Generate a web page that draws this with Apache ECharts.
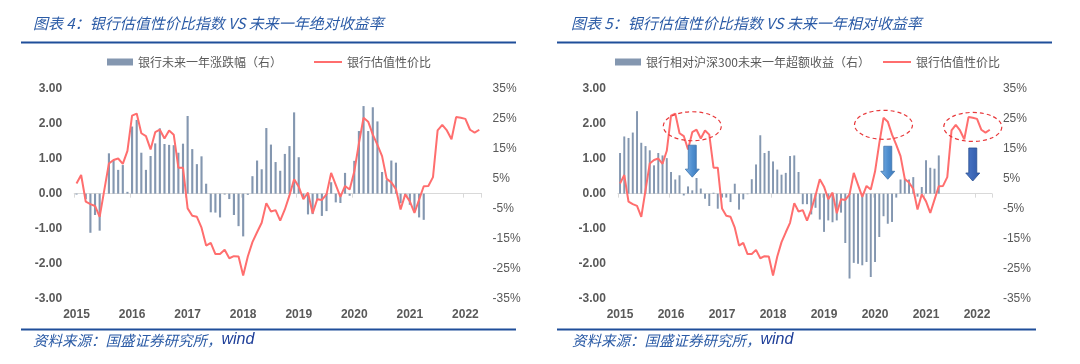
<!DOCTYPE html>
<html><head><meta charset="utf-8">
<script src="https://cdn.jsdelivr.net/npm/echarts@6/dist/echarts.min.js"></script>
<style>html,body{margin:0;padding:0;background:#fff}#c{width:1080px;height:364px}</style>
</head><body><div id="c"></div>
<script>
// ---- data ----
const months = [
 '2015-01','2015-02','2015-03','2015-04','2015-05','2015-06','2015-07','2015-08','2015-09','2015-10','2015-11','2015-12',
 '2016-01','2016-02','2016-03','2016-04','2016-05','2016-06','2016-07','2016-08','2016-09','2016-10','2016-11','2016-12',
 '2017-01','2017-02','2017-03','2017-04','2017-05','2017-06','2017-07','2017-08','2017-09','2017-10','2017-11','2017-12',
 '2018-01','2018-02','2018-03','2018-04','2018-05','2018-06','2018-07','2018-08','2018-09','2018-10','2018-11','2018-12',
 '2019-01','2019-02','2019-03','2019-04','2019-05','2019-06','2019-07','2019-08','2019-09','2019-10','2019-11','2019-12',
 '2020-01','2020-02','2020-03','2020-04','2020-05','2020-06','2020-07','2020-08','2020-09','2020-10','2020-11','2020-12',
 '2021-01','2021-02','2021-03','2021-04','2021-05','2021-06','2021-07','2021-08','2021-09','2021-10','2021-11','2021-12',
 '2022-01','2022-02','2022-03','2022-04'];
// 银行估值性价比 (left axis)
const valuationIndex = [
 0.29,0.53,-0.23,-0.30,-0.35,-0.66,0.10,0.86,0.96,1.00,0.85,1.22,
 2.22,2.28,1.72,1.64,1.26,1.75,1.82,1.57,1.80,1.68,0.74,0.74,
 -0.42,-0.63,-0.66,-0.97,-1.48,-1.40,-1.72,-1.72,-1.60,-1.84,-1.78,-1.79,
 -2.33,-1.79,-1.38,-1.10,-0.83,-0.27,-0.51,-0.47,-0.77,-0.45,-0.05,0.41,
 0.20,-0.16,0.03,-0.56,-0.16,-0.18,-0.02,0.59,0.25,-0.09,0.22,0.12,
 0.63,1.43,2.16,2.05,1.68,1.39,1.07,0.42,0.32,0.13,-0.45,-0.02,
 -0.22,-0.55,-0.17,0.21,0.22,0.47,1.80,1.96,1.80,1.55,2.18,2.16,
 2.13,1.82,1.74,1.82];
// 银行未来一年涨跌幅 (%, right axis)
const absReturn = [
 -0.3,0,-1.8,-13.0,-7.1,-12.3,0,13.4,11.2,7.9,9.5,0.6,
 22.3,24.5,13.6,7.9,12.5,16.7,21.7,16.5,16.2,16.1,13.6,16.6,
 25.8,14.8,9.8,12.4,3.3,-6.2,-6.3,-7.9,-0.3,-1.8,-7.1,-10.8,
 -14.2,-0.4,5.8,11.0,8.1,21.8,16.3,10.5,7.6,13.2,15.8,27.0,
 12.1,-1.3,-6.9,-6.8,-2.1,-7.4,-5.8,3.8,-2.9,-3.1,6.9,-0.7,
 10.9,20.8,29.1,20.8,28.7,24.0,7.2,4.5,11.0,10.3,-3.2,-1.0,
 -3.7,-5.6,-7.9,-8.7];
// 银行相对沪深300未来一年超额收益 (%, right axis)
const excessReturn = [
 13.5,19.0,18.5,20.3,27.4,16.9,15.8,14.4,9.4,13.5,12.7,11.8,
 7.2,4.7,6.1,-0.6,2.4,1.1,5.2,1.7,-1.7,-4.1,0.3,-5.0,
 -1.3,-1.3,-2.8,3.3,-5.3,-1.9,-0.2,4.8,9.7,19.4,13.5,14.2,
 10.7,8.0,6.3,6.9,12.5,12.7,7.2,-3.5,-3.5,-6.9,-4.7,-8.6,
 -12.7,-8.9,-9.5,-8.9,-6.3,-16.4,-28.2,-23.0,-23.3,-23.8,-22.7,-27.7,
 -22.7,-14.4,-7.5,-10.0,-9.4,-1.3,4.7,4.8,4.7,5.5,-1.0,2.2,
 11.1,8.6,8.3,12.7];
const leftAxisRange = [-3, 3, 1];
const rightAxisRange = [-35, 35, 10];
const titles = ['图表 4：银行估值性价比指数 VS 未来一年绝对收益率', '图表 5：银行估值性价比指数 VS 未来一年相对收益率'];
const barNames = ['银行未来一年涨跌幅（右）', '银行相对沪深300未来一年超额收益（右）'];
const lineName = '银行估值性价比';
const sourceText = '资料来源：国盛证券研究所，';
// annotations on chart 5: [category index, value on left axis]
const ellipses = [[16.5, 1.92], [62.2, 1.96], [82.6, 1.90]];
const arrows = [[16.8, 1.38, 0.47, 'light'], [63.3, 1.35, 0.41, 'light'], [82.8, 1.30, 0.36, 'dark']];

// ---- styles ----
const BAR = '#8497B0', LINE = '#FF6E6E', BLUE = '#2B5BA6', RULE = '#1F4E9A', GRAY = '#595959';
const NUM = '"Liberation Sans", Arial, sans-serif';
const CJK = '"Noto Sans CJK SC", sans-serif';
const grids = [
  {left: 74.2, top: 88.3, width: 407.4, height: 210.7},
  {left: 617.9, top: 88.3, width: 374, height: 210.7}
];
const barSeries = [absReturn, excessReturn];

const xAxis = [], yAxis = [], series = [];
grids.forEach((g, i) => {
  xAxis.push({type: 'category', gridIndex: i, data: months, position: 'bottom', boundaryGap: true,
    axisLine: {show: false, onZero: false}, axisTick: {show: false},
    axisLabel: {interval: 11, formatter: v => v.slice(0, 4), color: GRAY, fontWeight: 'bold', fontSize: 12, fontFamily: NUM, margin: 10}});
  xAxis.push({type: 'category', gridIndex: i, data: months, position: 'bottom', boundaryGap: true,
    axisLine: {show: true, onZero: true, lineStyle: {color: '#D9D9D9', width: 1}},
    axisTick: {show: true, interval: 11, length: 4, lineStyle: {color: '#D9D9D9'}},
    axisLabel: {show: false}});
  yAxis.push({type: 'value', gridIndex: i, position: 'left', min: leftAxisRange[0], max: leftAxisRange[1], interval: leftAxisRange[2],
    axisLine: {show: false}, axisTick: {show: false}, splitLine: {show: false},
    axisLabel: {formatter: v => v.toFixed(2), color: GRAY, fontWeight: 'bold', fontSize: 12, fontFamily: NUM, margin: 12}});
  yAxis.push({type: 'value', gridIndex: i, position: 'right', min: rightAxisRange[0], max: rightAxisRange[1], interval: rightAxisRange[2],
    axisLine: {show: false}, axisTick: {show: false}, splitLine: {show: false},
    axisLabel: {formatter: v => v + '%', color: GRAY, fontSize: 12, fontFamily: NUM, margin: 11}});
  series.push({type: 'bar', name: barNames[i], xAxisIndex: 2 * i, yAxisIndex: 2 * i + 1, data: barSeries[i],
    barWidth: '46%', itemStyle: {color: BAR}, z: 2, animation: false});
  series.push({type: 'line', name: lineName, xAxisIndex: 2 * i, yAxisIndex: 2 * i, data: valuationIndex,
    symbol: 'none', showSymbol: false, lineStyle: {color: LINE, width: 2}, itemStyle: {color: LINE}, z: 3, animation: false});
});

const legendText = {color: GRAY, fontSize: 12, fontFamily: CJK};
const barLegend = (name, left) => ({left, top: 56, padding: 0, data: [{name, icon: 'rect'}], itemWidth: 26, itemHeight: 7, itemStyle: {color: BAR}, textStyle: legendText, selectedMode: false});
const lineLegend = (left) => ({left, top: 56, padding: 0, data: [{name: lineName, icon: 'rect'}], itemWidth: 28, itemHeight: 2, itemStyle: {color: LINE}, textStyle: legendText, selectedMode: false});
const legend = [barLegend(barNames[0], 107), lineLegend(314), barLegend(barNames[1], 615), lineLegend(883)];

const titleStyle = {fontStyle: 'italic', fontWeight: 'normal', fontSize: 15, color: BLUE, fontFamily: CJK};
const srcRich = {rich: {
  a: {fontStyle: 'italic', fontWeight: 'normal', fontSize: 14.5, color: BLUE, fontFamily: CJK},
  b: {fontStyle: 'italic', fontWeight: 'normal', fontSize: 16, color: '#1F3F99', fontFamily: NUM}}};
const title = [
  {text: titles[0], left: 33, top: 16, padding: 0, textStyle: titleStyle},
  {text: titles[1], left: 571, top: 16, padding: 0, textStyle: titleStyle},
  {text: '{a|' + sourceText + '}{b|wind}', left: 33, top: 332, padding: 0, textStyle: srcRich},
  {text: '{a|' + sourceText + '}{b|wind}', left: 572, top: 332, padding: 0, textStyle: srcRich}
];

const chart = echarts.init(document.getElementById('c'), null, {renderer: 'canvas'});
chart.setOption({backgroundColor: '#fff', animation: false, grid: grids, xAxis, yAxis, series, legend, title});

// rules + annotations
const g = [];
const rule = (x1, x2, y) => g.push({type: 'line', shape: {x1, y1: y, x2, y2: y}, style: {stroke: RULE, lineWidth: 2.2}, silent: true});
rule(21, 516, 42.5); rule(557, 1052, 42.5);
rule(21, 516, 329.5); rule(557, 1036, 329.5);
const conv = (k, v) => chart.convertToPixel({xAxisIndex: 2, yAxisIndex: 2}, [k, v]);
ellipses.forEach(([k, v]) => {
  const p = conv(k, v);
  g.push({type: 'ellipse', shape: {cx: p[0], cy: p[1], rx: 29, ry: 14.5}, style: {fill: null, stroke: '#E8393B', lineWidth: 1.2, lineDash: [4, 3]}, z: 10, silent: true});
});
arrows.forEach(([k, v1, v2, tone]) => {
  const p1 = conv(k, v1), p2 = conv(k, v2);
  const x = p1[0], y0 = p1[1], y2 = p2[1], y1 = y2 - 8;
  const fill = tone === 'light'
    ? new echarts.graphic.LinearGradient(0, 0, 1, 0, [{offset: 0, color: '#7FB2E5'}, {offset: 0.5, color: '#4F8FD0'}, {offset: 1, color: '#3A76B8'}])
    : new echarts.graphic.LinearGradient(0, 0, 1, 0, [{offset: 0, color: '#4C78C8'}, {offset: 1, color: '#2F58A8'}]);
  g.push({type: 'polygon', shape: {points: [[x - 4, y0], [x + 4, y0], [x + 4, y1], [x + 7, y1], [x, y2], [x - 7, y1], [x - 4, y1]]},
    style: {fill, stroke: tone === 'light' ? '#3E74AC' : '#2A4F90', lineWidth: 0.8}, z: 10, silent: true});
});
chart.setOption({graphic: g});
</script>
</body></html>
